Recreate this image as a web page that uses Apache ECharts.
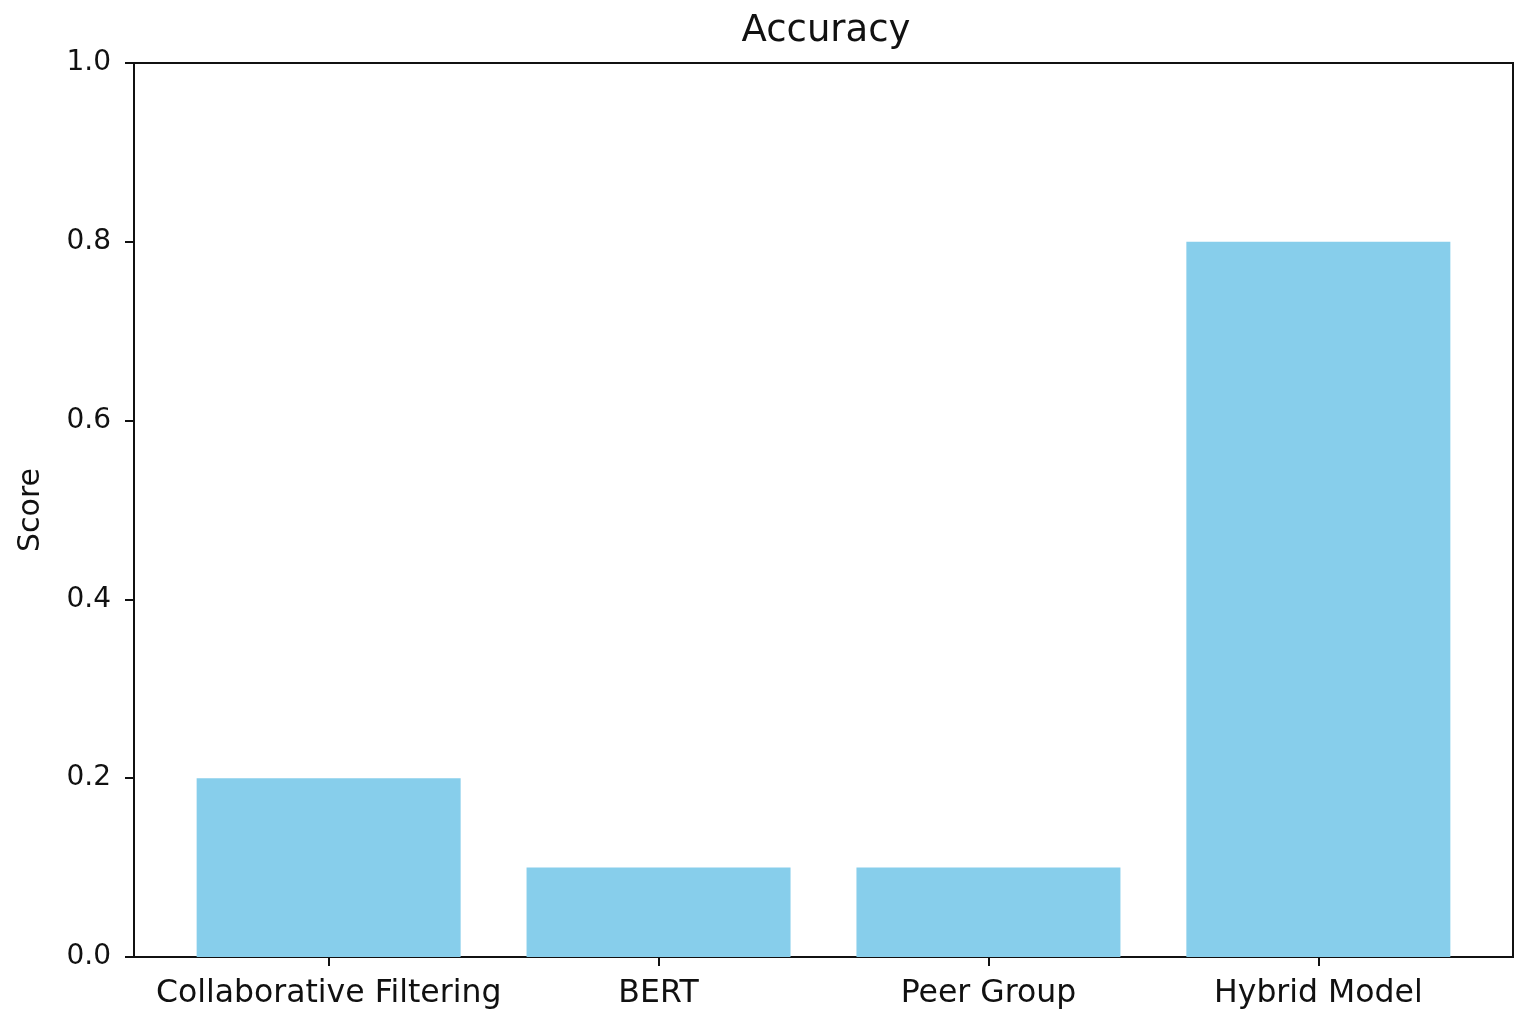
<!DOCTYPE html>
<html>
<head>
<meta charset="utf-8">
<script src="https://cdn.jsdelivr.net/npm/echarts@6/dist/echarts.min.js"></script>
<style>html,body{margin:0;padding:0;background:#fff}#c{width:1535px;height:1022px}</style>
</head>
<body>
<div id="c"></div>
<script>
const categories = ["Collaborative Filtering", "BERT", "Peer Group", "Hybrid Model"];
const scores = [0.2, 0.1, 0.1, 0.8];
const yTicks = [0, 0.2, 0.4, 0.6, 0.8, 1.0];
const titleText = "Accuracy";
const yName = "Score";

const font = "DejaVu Sans";
const chart = echarts.init(document.getElementById('c'), null, {renderer: 'canvas'});
const idx = categories.map((_, i) => i);
chart.setOption({
  animation: false,
  backgroundColor: '#fff',
  title: {
    text: titleText, left: 821, top: 8, textAlign: 'center',
    textStyle: {fontFamily: font, fontSize: 37, fontWeight: 'normal', color: '#111'}
  },
  grid: {left: 134, right: 22, top: 63, bottom: 65, show: true, borderColor: '#111', borderWidth: 2, backgroundColor: 'transparent'},
  xAxis: {
    type: 'value', min: -0.59, max: 3.59,
    splitLine: {show: false},
    axisLine: {show: true, onZero: false, lineStyle: {color: '#111', width: 2}},
    axisTick: {show: true, customValues: idx, length: 9, lineStyle: {color: '#111', width: 2}},
    axisLabel: {customValues: idx, formatter: v => categories[Math.round(v)], fontFamily: font, fontSize: 31.5, color: '#111', margin: 21}
  },
  yAxis: {
    type: 'value', min: 0, max: 1, interval: 0.2,
    name: yName, nameLocation: 'middle', nameGap: 88,
    nameTextStyle: {fontFamily: font, fontSize: 30, color: '#111'},
    splitLine: {show: false},
    axisLine: {show: true, onZero: false, lineStyle: {color: '#111', width: 2}},
    axisTick: {show: true, length: 9, lineStyle: {color: '#111', width: 2}},
    axisLabel: {formatter: v => v.toFixed(1), fontFamily: font, fontSize: 28, color: '#111', margin: 23}
  },
  series: [{
    type: 'bar',
    data: scores.map((v, i) => [i, v]),
    barWidth: 264,
    itemStyle: {color: '#87CEEB'}
  }]
});
</script>
</body>
</html>
